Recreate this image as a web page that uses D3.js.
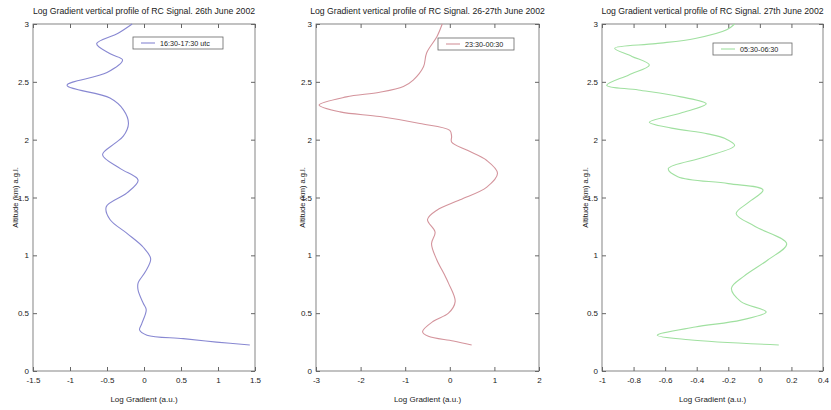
<!DOCTYPE html>
<html><head><meta charset="utf-8">
<script src="https://cdn.jsdelivr.net/npm/d3@7"></script>
<style>body{margin:0;background:#fff}svg{display:block}text{font-family:"Liberation Sans",Arial,sans-serif;fill:#222}</style>
</head><body>
<svg id="c" width="831" height="410"></svg>
<script>
const titles = [
  "Log Gradient vertical profile of RC Signal. 26th June 2002",
  "Log Gradient vertical profile of RC Signal. 26-27th June 2002",
  "Log Gradient vertical profile of RC Signal. 27th June 2002"
];
const legendLabels = ["16:30-17:30 utc", "23:30-00:30", "05:30-06:30"];
const xDomains = [[-1.5, 1.5], [-3, 2], [-1, 0.4]];
const xTicks = [
  [-1.5, -1, -0.5, 0, 0.5, 1, 1.5],
  [-3, -2, -1, 0, 1, 2],
  [-1, -0.8, -0.6, -0.4, -0.2, 0, 0.2, 0.4]
];
const yTicks = [0, 0.5, 1, 1.5, 2, 2.5, 3];
const colors = ["#8888d2", "#d4949c", "#a0e0a0"];

// [log gradient, altitude km]
const series1 = [[-0.16,3.0],[-0.35,2.92],[-0.64,2.83],[-0.45,2.74],[-0.29,2.69],[-0.5,2.58],[-1.04,2.47],[-0.46,2.36],[-0.28,2.26],[-0.21,2.14],[-0.28,2.03],[-0.39,1.97],[-0.56,1.87],[-0.32,1.75],[-0.08,1.65],[-0.23,1.54],[-0.51,1.42],[-0.46,1.31],[-0.23,1.19],[-0.01,1.07],[0.09,0.97],[0.02,0.86],[-0.08,0.76],[-0.08,0.70],[-0.01,0.585],[0.03,0.53],[-0.03,0.41],[-0.06,0.355],[0.04,0.31],[0.53,0.28],[0.98,0.25],[1.43,0.225]];
const series2 = [[-0.17,3.0],[-0.29,2.89],[-0.52,2.75],[-0.59,2.63],[-0.82,2.515],[-1.04,2.46],[-1.57,2.41],[-2.32,2.37],[-2.93,2.30],[-2.46,2.24],[-1.57,2.20],[-0.67,2.14],[0.0,2.08],[0.04,2.03],[0.04,1.98],[0.38,1.91],[0.83,1.82],[1.07,1.71],[0.83,1.59],[0.23,1.48],[-0.29,1.39],[-0.5,1.31],[-0.33,1.20],[-0.41,1.10],[-0.29,0.96],[-0.13,0.84],[-0.03,0.76],[0.12,0.60],[-0.03,0.50],[-0.37,0.43],[-0.61,0.34],[-0.48,0.30],[0.08,0.26],[0.49,0.225]];
const series3 = [[-0.16,3.0],[-0.21,2.95],[-0.41,2.875],[-0.66,2.83],[-0.92,2.79],[-0.81,2.72],[-0.70,2.645],[-0.83,2.56],[-0.97,2.47],[-0.77,2.43],[-0.50,2.37],[-0.34,2.31],[-0.50,2.23],[-0.70,2.15],[-0.56,2.10],[-0.33,2.05],[-0.22,2.01],[-0.16,1.95],[-0.35,1.85],[-0.58,1.75],[-0.52,1.68],[-0.20,1.62],[0.02,1.565],[-0.07,1.46],[-0.15,1.36],[-0.03,1.25],[0.17,1.10],[0.05,0.96],[-0.10,0.82],[-0.18,0.715],[-0.12,0.60],[0.04,0.51],[-0.12,0.44],[-0.41,0.38],[-0.65,0.31],[-0.45,0.27],[0.12,0.225]];
const allSeries = [series1, series2, series3];

const panels = [
  {x0: 33, x1: 255, legend: [133, 37, 90, 12], ylab: 15},
  {x0: 316, x1: 539, legend: [438, 38, 76, 12], ylab: 302},
  {x0: 602, x1: 823, legend: [713, 43, 79, 12], ylab: 585}
];
const plotTop = 24, plotBottom = 371;
const svg = d3.select("#c");
const y = d3.scaleLinear().domain([0, 3]).range([plotBottom, plotTop]);

panels.forEach((p, i) => {
  const g = svg.append("g");
  const x = d3.scaleLinear().domain(xDomains[i]).range([p.x0, p.x1]);
  g.append("rect").attr("x", p.x0).attr("y", plotTop).attr("width", p.x1 - p.x0).attr("height", plotBottom - plotTop)
    .attr("fill", "none").attr("stroke", "#666").attr("stroke-width", 0.8);
  g.append("g").attr("transform", `translate(0,${plotBottom})`)
    .call(d3.axisBottom(x).tickValues(xTicks[i]).tickSize(-4).tickPadding(6).tickFormat(d => String(d)))
    .call(a => a.select(".domain").remove())
    .call(a => a.selectAll("line").attr("stroke", "#666"))
    .call(a => a.selectAll("text").attr("font-size", 8).attr("fill", "#222"));
  g.append("g").attr("transform", `translate(0,${plotTop})`)
    .call(d3.axisTop(x).tickValues(xTicks[i]).tickSize(-4).tickFormat(""))
    .call(a => a.select(".domain").remove())
    .call(a => a.selectAll("line").attr("stroke", "#666"));
  g.append("g").attr("transform", `translate(${p.x0},0)`)
    .call(d3.axisLeft(y).tickValues(yTicks).tickSize(-4).tickPadding(4).tickFormat(d => String(d)))
    .call(a => a.select(".domain").remove())
    .call(a => a.selectAll("line").attr("stroke", "#666"))
    .call(a => a.selectAll("text").attr("font-size", 8).attr("fill", "#222"));
  g.append("g").attr("transform", `translate(${p.x1},0)`)
    .call(d3.axisRight(y).tickValues(yTicks).tickSize(-4).tickFormat(""))
    .call(a => a.select(".domain").remove())
    .call(a => a.selectAll("line").attr("stroke", "#666"));
  g.append("text").attr("x", (p.x0 + p.x1) / 2).attr("y", 14).attr("text-anchor", "middle")
    .attr("font-size", 8.7).text(titles[i]);
  g.append("text").attr("x", (p.x0 + p.x1) / 2).attr("y", 402).attr("text-anchor", "middle")
    .attr("font-size", 8).text("Log Gradient (a.u.)");
  g.append("text").attr("transform", `translate(${p.ylab},${(plotTop + plotBottom) / 2}) rotate(-90)`)
    .attr("text-anchor", "middle").attr("dy", "0.35em").attr("font-size", 7.5).text("Altitude (km) a.g.l.");
  const line = d3.line().x(d => x(d[0])).y(d => y(d[1])).curve(d3.curveCatmullRom.alpha(0.5));
  g.append("path").datum(allSeries[i]).attr("d", line).attr("fill", "none")
    .attr("stroke", colors[i]).attr("stroke-width", 1.1);
  const [lx, ly, lw, lh] = p.legend;
  g.append("rect").attr("x", lx).attr("y", ly).attr("width", lw).attr("height", lh)
    .attr("fill", "#fff").attr("stroke", "#666").attr("stroke-width", 0.8);
  g.append("line").attr("x1", lx + 8).attr("x2", lx + 22).attr("y1", ly + lh / 2).attr("y2", ly + lh / 2)
    .attr("stroke", colors[i]).attr("stroke-width", 1.1);
  g.append("text").attr("x", lx + 27).attr("y", ly + lh / 2).attr("dy", "0.35em")
    .attr("font-size", 7.2).text(legendLabels[i]);
});
</script>
</body></html>
